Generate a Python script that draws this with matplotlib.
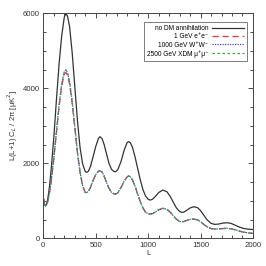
import matplotlib

matplotlib.use("Agg")
import matplotlib.pyplot as plt
from matplotlib.ticker import MultipleLocator

plt.rcParams["font.family"] = ["Liberation Sans", "DejaVu Sans"]

# multipole grid
ell = [2, 10, 20, 30, 40, 50, 60, 75, 100, 125, 150, 175, 200, 215, 230, 250,
       275, 300, 325, 350, 375, 400, 415, 430, 450, 475, 500, 525, 540, 560,
       580, 600, 625, 650, 675, 690, 710, 740, 770, 800, 815, 830, 850, 875,
       900, 925, 950, 975, 1000, 1020, 1040, 1070, 1100, 1140, 1180, 1210,
       1240, 1270, 1300, 1320, 1340, 1370, 1400, 1435, 1470, 1500, 1530, 1560,
       1600, 1635, 1670, 1710, 1750, 1790, 1830, 1870, 1910, 1950, 2000]

cl_none = [1050, 900, 870, 920, 1020, 1200, 1420, 1850, 2700, 3700, 4650, 5400,
           5900, 5990, 5930, 5650, 4950, 4050, 3150, 2420, 1980, 1780, 1760,
           1790, 1920, 2180, 2450, 2660, 2710, 2660, 2500, 2280, 2010, 1840,
           1780, 1778, 1830, 2040, 2340, 2560, 2577, 2550, 2430, 2170, 1860,
           1560, 1300, 1130, 1040, 1020, 1040, 1120, 1220, 1288, 1240, 1120,
           960, 810, 715, 693, 700, 750, 810, 843, 820, 740, 620, 500, 400, 373,
           380, 405, 416, 400, 350, 300, 265, 245, 235]

cl_ee = [1050, 900, 860, 890, 960, 1080, 1240, 1520, 2130, 2820, 3500, 4060,
         4380, 4420, 4350, 4110, 3600, 2950, 2280, 1760, 1395, 1222, 1216,
         1248, 1358, 1548, 1698, 1788, 1800, 1768, 1658, 1508, 1338, 1222,
         1183, 1180, 1213, 1348, 1518, 1643, 1659, 1643, 1558, 1388, 1178,
         973, 808, 698, 652, 646, 658, 703, 758, 798, 768, 698, 598, 508, 448,
         441, 448, 478, 503, 513, 493, 443, 373, 308, 258, 246, 250, 260, 265,
         256, 228, 193, 163, 146, 131]

cl_ww = [1050, 900, 860, 890, 960, 1080, 1240, 1530, 2150, 2850, 3550, 4120,
         4450, 4490, 4420, 4180, 3650, 2980, 2300, 1770, 1400, 1225, 1218,
         1250, 1360, 1550, 1700, 1790, 1803, 1770, 1660, 1510, 1340, 1225,
         1185, 1181, 1215, 1350, 1520, 1645, 1661, 1645, 1560, 1390, 1180,
         975, 810, 700, 655, 648, 660, 705, 760, 800, 770, 700, 600, 510, 450,
         443, 450, 480, 505, 515, 495, 445, 375, 310, 260, 248, 252, 262, 267,
         258, 230, 195, 165, 148, 133]

# XDM curve is indistinguishable from the W+W- one in the reference
cl_xdm = list(cl_ww)

labels = ["no DM annihilation", "1 GeV e\u207ae\u207b", "1000 GeV W\u207aW\u207b",
          "2500 GeV XDM \u03bc\u207a\u03bc\u207b"]

fig = plt.figure(figsize=(2.66, 2.66), dpi=100)
ax = fig.add_axes([0.163, 0.104, 0.788, 0.846])

ax.plot(ell, cl_none, color="#333333", lw=0.9, label=labels[0])
ax.plot(ell, cl_ee, color="#ff3333", lw=0.9, ls=(0, (5, 3)), label=labels[1])
ax.plot(ell, cl_ww, color="#4444ff", lw=0.9, ls=(0, (1, 1)), label=labels[2])
ax.plot(ell, cl_xdm, color="#33aa33", lw=0.9, ls=(0, (2, 2)), label=labels[3])

ax.set_xlim(0, 2000)
ax.set_ylim(0, 6000)
ax.xaxis.set_major_locator(MultipleLocator(500))
ax.xaxis.set_minor_locator(MultipleLocator(100))
ax.yaxis.set_major_locator(MultipleLocator(2000))
ax.yaxis.set_minor_locator(MultipleLocator(500))
ax.tick_params(which="both", direction="in", top=True, right=True,
               labelsize=5.6, colors="#333333", width=0.6)
ax.tick_params(which="major", length=3.5, pad=2.5)
ax.tick_params(which="minor", length=2)
for sp in ax.spines.values():
    sp.set_linewidth(0.7)
    sp.set_color("#444444")

ax.set_xlabel("L", fontsize=5.6, color="#333333", labelpad=1)
ax.set_ylabel("L(L+1) C$_{L}$ / 2\u03c0 [\u03bcK$^{2}$]", fontsize=5.6,
              color="#333333", labelpad=2)

leg = ax.legend(loc="upper right", bbox_to_anchor=(0.97, 0.961),
                borderaxespad=0, fontsize=4.7, markerfirst=False,
                fancybox=False, handlelength=4.8, handletextpad=0.6,
                labelspacing=0.2, borderpad=0.45)
leg.get_frame().set_edgecolor("#444444")
leg.get_frame().set_linewidth(0.6)

fig.savefig("out.png", dpi=100)
